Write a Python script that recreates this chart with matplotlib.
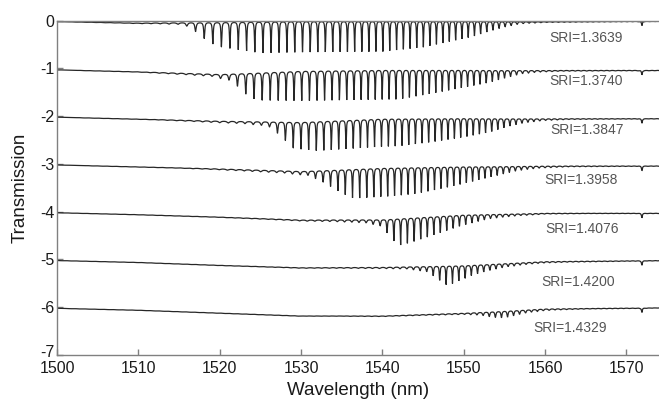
import numpy as np
import matplotlib
matplotlib.use("Agg")
import matplotlib.pyplot as plt
from matplotlib.transforms import ScaledTranslation

plt.rcParams['font.family'] = ['Liberation Sans', 'DejaVu Sans']

# ---------------- data ----------------
sri_labels = ["SRI=1.3639", "SRI=1.3740", "SRI=1.3847", "SRI=1.3958",
              "SRI=1.4076", "SRI=1.4200", "SRI=1.4329"]
offsets = [0, -1, -2, -3, -4, -5, -6]

# label anchor (wavelength, transmission)
label_wl = [1565.0, 1565.0, 1565.2, 1564.4, 1564.5, 1564.0, 1563.1]
label_tr = [-0.36, -1.26, -2.30, -3.34, -4.36, -5.47, -6.44]

# baseline (slow sag) knots shared wavelengths, per-curve values
base_wl = [1500, 1510, 1520, 1530, 1540, 1550, 1560, 1574]
base_c1 = [-0.02, -0.05, -0.03, -0.01, -0.01, -0.01, -0.02, -0.01]
base_c2 = [-0.03, -0.07, -0.12, -0.05, -0.03, -0.03, -0.04, -0.04]
base_c3 = [-0.02, -0.06, -0.10, -0.12, -0.05, -0.04, -0.05, -0.05]
base_c4 = [-0.02, -0.06, -0.10, -0.15, -0.08, -0.05, -0.04, -0.04]
base_c5 = [-0.02, -0.06, -0.11, -0.17, -0.16, -0.06, -0.03, -0.03]
base_c6 = [-0.02, -0.06, -0.12, -0.17, -0.16, -0.12, -0.04, -0.02]
base_c7 = [-0.02, -0.06, -0.12, -0.18, -0.18, -0.12, -0.03, -0.01]
baselines = [base_c1, base_c2, base_c3, base_c4, base_c5, base_c6, base_c7]

# fringe-dip depth envelopes (wavelength knots, depth)
env_wl_c1 = [1500, 1508, 1512, 1515, 1516.5, 1517.5, 1519.5, 1522, 1525, 1540, 1545, 1548.5, 1551, 1553, 1555, 1557, 1560, 1574]
env_d_c1 = [0.005, 0.01, 0.02, 0.04, 0.10, 0.28, 0.50, 0.58, 0.66, 0.64, 0.55, 0.42, 0.33, 0.22, 0.12, 0.05, 0.02, 0.01]
env_wl_c2 = [1500, 1510, 1515, 1519, 1521.5, 1523, 1524.5, 1530, 1542, 1546, 1550, 1553, 1555.5, 1557, 1559, 1562, 1574]
env_d_c2 = [0.005, 0.01, 0.03, 0.05, 0.15, 0.42, 0.58, 0.63, 0.62, 0.50, 0.37, 0.27, 0.15, 0.08, 0.04, 0.02, 0.01]
env_wl_c3 = [1500, 1512, 1518, 1523, 1526, 1527.5, 1529, 1532, 1542, 1546, 1550, 1553, 1555.5, 1557.5, 1560, 1563, 1574]
env_d_c3 = [0.005, 0.01, 0.03, 0.05, 0.10, 0.30, 0.55, 0.62, 0.58, 0.50, 0.40, 0.30, 0.17, 0.09, 0.04, 0.02, 0.01]
env_wl_c4 = [1500, 1515, 1522, 1528, 1531, 1533, 1535, 1536.5, 1541, 1544, 1546, 1549, 1551.5, 1554, 1556.5, 1559, 1563, 1574]
env_d_c4 = [0.005, 0.01, 0.03, 0.05, 0.10, 0.28, 0.50, 0.62, 0.60, 0.56, 0.50, 0.40, 0.30, 0.20, 0.10, 0.05, 0.02, 0.01]
env_wl_c5 = [1500, 1520, 1528, 1534, 1538, 1540, 1541, 1542, 1543.5, 1545, 1547, 1549, 1551, 1553, 1556, 1560, 1565, 1574]
env_d_c5 = [0.005, 0.01, 0.02, 0.04, 0.07, 0.15, 0.40, 0.57, 0.52, 0.45, 0.36, 0.26, 0.18, 0.10, 0.05, 0.02, 0.01, 0.01]
env_wl_c6 = [1500, 1525, 1535, 1540, 1543, 1545.5, 1547, 1548, 1549.5, 1551, 1553, 1555, 1558, 1563, 1574]
env_d_c6 = [0.005, 0.01, 0.02, 0.03, 0.05, 0.12, 0.30, 0.42, 0.32, 0.22, 0.14, 0.08, 0.04, 0.02, 0.01]
env_wl_c7 = [1500, 1535, 1545, 1550, 1552, 1553.5, 1555, 1556.5, 1558, 1561, 1565, 1574]
env_d_c7 = [0.005, 0.01, 0.02, 0.03, 0.06, 0.12, 0.15, 0.10, 0.06, 0.03, 0.015, 0.01]
env_wls = [env_wl_c1, env_wl_c2, env_wl_c3, env_wl_c4, env_wl_c5, env_wl_c6, env_wl_c7]
env_ds = [env_d_c1, env_d_c2, env_d_c3, env_d_c4, env_d_c5, env_d_c6, env_d_c7]

# fringe period (nm) read at several wavelengths
period_wl = [1500, 1520, 1530, 1540, 1550, 1560, 1574]
period_nm = [1.20, 1.05, 0.95, 0.85, 0.77, 0.72, 0.68]

# narrow notch common to all spectra
notch_wl = 1571.9
notch_depth = 0.09

x_ticks = [1500, 1510, 1520, 1530, 1540, 1550, 1560, 1570]
y_ticks = [0, -1, -2, -3, -4, -5, -6, -7]

# ---------------- build and draw ----------------
wl = np.arange(1500.0, 1574.0, 0.004)
per = np.interp(wl, period_wl, period_nm)
phase = np.concatenate([[0.0], np.cumsum(np.diff(wl) / per[:-1])])

fig = plt.figure(figsize=(6.59, 3.99), dpi=100)
ax = fig.add_axes([0.0865, 0.1103, 0.9135, 0.8383])

for k in range(len(offsets)):
    base = np.interp(wl, base_wl, baselines[k])
    depth = np.interp(wl, env_wls[k], env_ds[k])
    F = 1.0 + 60.0 * depth
    dip = 1.0 / (1.0 + F * np.sin(np.pi * (phase + 0.1 * k)) ** 2)
    notch = notch_depth / (1.0 + ((wl - notch_wl) / 0.06) ** 2)
    y = offsets[k] + base - depth * dip - notch
    ax.plot(wl, y, color='#262626', lw=0.9, solid_joinstyle='miter')
    ax.text(label_wl[k], label_tr[k], sri_labels[k], ha='center', va='center',
            fontsize=10, color='#555555')

ax.set_xlim(1500, 1574)
ax.set_ylim(-7, 0)
ax.set_xticks(x_ticks)
ax.set_yticks(y_ticks)
ax.set_yticklabels([str(v) for v in y_ticks])
gray = '#808080'
for s in ['left', 'bottom', 'top']:
    ax.spines[s].set_color(gray)
    ax.spines[s].set_linewidth(1.0)
ax.spines['right'].set_visible(False)
ax.tick_params(direction='in', length=4, width=1, color=gray,
               labelsize=11.5, labelcolor='#1a1a1a')
ax.tick_params(axis='x', pad=4)
ax.tick_params(axis='y', pad=2)
# nudge the "-7" label up slightly so it clears "1500" (as in the reference)
lbl = ax.get_yticklabels()[-1]
lbl.set_transform(lbl.get_transform() + ScaledTranslation(0, 3 / 72, fig.dpi_scale_trans))
ax.set_xlabel('Wavelength (nm)', fontsize=13.5, color='#1a1a1a', labelpad=5)
ax.set_ylabel('Transmission', fontsize=13.5, color='#1a1a1a', labelpad=8)

fig.savefig('out.png', dpi=100)
